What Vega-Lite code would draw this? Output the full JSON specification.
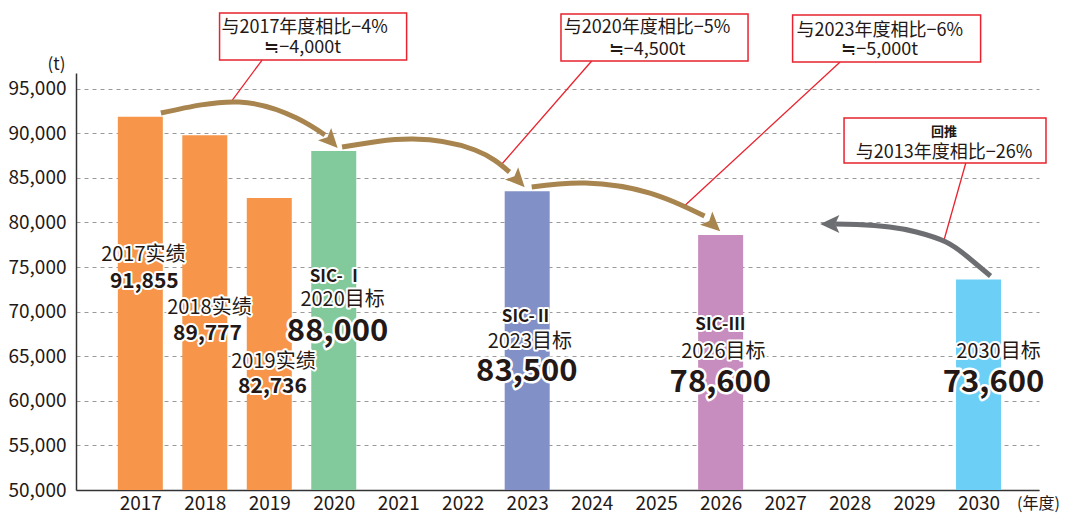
{
  "$schema": "https://vega.github.io/schema/vega-lite/v6.json",
  "width": 963,
  "height": 417,
  "autosize": {"type": "none"},
  "padding": {"left": 76, "top": 73, "right": 33, "bottom": 23},
  "background": "white",
  "config": {
    "font": "Noto Sans CJK SC",
    "view": {"stroke": null},
    "text": {"color": "#231815"}
  },
  "datasets": {
    "bars": [
      {"year": 2017, "value": 91855, "phase": "实绩"},
      {"year": 2018, "value": 89777, "phase": "实绩"},
      {"year": 2019, "value": 82736, "phase": "实绩"},
      {"year": 2020, "value": 88000, "phase": "SIC-Ⅰ"},
      {"year": 2023, "value": 83500, "phase": "SIC-Ⅱ"},
      {"year": 2026, "value": 78600, "phase": "SIC-Ⅲ"},
      {"year": 2030, "value": 73600, "phase": "2030目标"}
    ],
    "arrows": [
      {"id": "a1", "year": 2017.319, "value": 92262},
      {"id": "a1", "year": 2018.530, "value": 93495},
      {"id": "a1", "year": 2019.423, "value": 91701},
      {"id": "a1", "year": 2019.862, "value": 89796},
      {"id": "a2", "year": 2020.129, "value": 88450},
      {"id": "a2", "year": 2021.222, "value": 89347},
      {"id": "a2", "year": 2022.189, "value": 88114},
      {"id": "a2", "year": 2022.726, "value": 85648},
      {"id": "a3", "year": 2023.070, "value": 83966},
      {"id": "a3", "year": 2023.903, "value": 84415},
      {"id": "a3", "year": 2024.904, "value": 83294},
      {"id": "a3", "year": 2025.750, "value": 80715}
    ],
    "backArrow": [
      {"year": 2030.186, "value": 73989},
      {"year": 2029.833, "value": 76119},
      {"year": 2029.495, "value": 77801},
      {"year": 2029.035, "value": 78922},
      {"year": 2028.620, "value": 79482},
      {"year": 2028.114, "value": 79763},
      {"year": 2027.776, "value": 79819}
    ],
    "leaders": [
      {"year": 2018.889, "value": 98203, "year2": 2018.393, "value2": 93383},
      {"year": 2024.000, "value": 98091, "year2": 2022.594, "value2": 86433},
      {"year": 2027.853, "value": 97979, "year2": 2025.420, "value2": 81724},
      {"year": 2029.802, "value": 86657, "year2": 2029.465, "value2": 78025}
    ],
    "boxes": [
      {"year": 2018.229, "year2": 2021.130, "value": 98203, "value2": 103472},
      {"year": 2023.524, "year2": 2026.425, "value": 98091, "value2": 103360},
      {"year": 2027.116, "year2": 2030.032, "value": 97979, "value2": 103248},
      {"year": 2027.914, "year2": 2031.046, "value": 86657, "value2": 91701}
    ],
    "boxText": [
      {"label": "与2017年度相比−4%", "year": 2019.549, "value": 101790, "kind": "main"},
      {"label": "≒−4,000t", "year": 2019.518, "value": 99548, "kind": "main"},
      {"label": "与2020年度相比−5%", "year": 2024.860, "value": 101790, "kind": "main"},
      {"label": "≒−4,500t", "year": 2024.860, "value": 99324, "kind": "main"},
      {"label": "与2023年度相比−6%", "year": 2028.467, "value": 101454, "kind": "main"},
      {"label": "≒−5,000t", "year": 2028.467, "value": 99324, "kind": "main"},
      {"label": "回推", "year": 2029.465, "value": 90132, "kind": "note"},
      {"label": "与2013年度相比−26%", "year": 2029.465, "value": 87778, "kind": "main"}
    ],
    "labels": [
      {"label": "2017实绩", "year": 2017.047, "value": 76344, "kind": "cap"},
      {"label": "91,855", "year": 2017.062, "value": 73317, "kind": "actual"},
      {"label": "2018实绩", "year": 2018.072, "value": 70402, "kind": "cap"},
      {"label": "89,777", "year": 2018.042, "value": 67488, "kind": "actual"},
      {"label": "2019实绩", "year": 2019.065, "value": 64349, "kind": "cap"},
      {"label": "82,736", "year": 2019.050, "value": 61546, "kind": "actual"},
      {"label": "SIC- Ⅰ", "year": 2020.045, "value": 73877, "kind": "sic"},
      {"label": "2020目标", "year": 2020.137, "value": 71299, "kind": "cap"},
      {"label": "88,000", "year": 2020.060, "value": 67712, "kind": "target"},
      {"label": "SIC-Ⅱ", "year": 2022.995, "value": 69393, "kind": "sic"},
      {"label": "2023目标", "year": 2023.041, "value": 66591, "kind": "cap"},
      {"label": "83,500", "year": 2022.995, "value": 63228, "kind": "target"},
      {"label": "SIC-Ⅲ", "year": 2025.996, "value": 68497, "kind": "sic"},
      {"label": "2026目标", "year": 2026.042, "value": 65470, "kind": "cap"},
      {"label": "78,600", "year": 2025.996, "value": 61995, "kind": "target"},
      {"label": "2030目标", "year": 2030.309, "value": 65470, "kind": "cap"},
      {"label": "73,600", "year": 2030.232, "value": 61995, "kind": "target"}
    ]
  },
  "encoding": {
    "x": {
      "field": "year", "type": "quantitative",
      "scale": {"domain": [2016.08, 2030.86], "nice": false, "zero": false},
      "axis": {
        "values": [2017, 2018, 2019, 2020, 2021, 2022, 2023, 2024, 2025, 2026, 2027, 2028, 2029, 2030],
        "format": "d", "tickSize": 0, "labelPadding": 4, "labelFontSize": 19, "labelColor": "#231815",
        "labelFlush": false, "labelOverlap": false, "labelBound": false, "grid": false,
        "domainColor": "#333333", "domainWidth": 1.5,
        "title": "(年度)", "titleX": 962, "titleY": 13, "titleAlign": "center", "titleBaseline": "middle",
        "titleFontWeight": "normal", "titleFontSize": 16, "titleColor": "#231815"
      }
    },
    "y": {
      "field": "value", "type": "quantitative",
      "scale": {"domain": [50000, 96750], "nice": false, "zero": false},
      "axis": {
        "values": [50000, 55000, 60000, 65000, 70000, 75000, 80000, 85000, 90000, 95000],
        "format": ",d", "tickSize": 0, "labelPadding": 10, "labelFontSize": 19, "labelColor": "#231815",
        "domainColor": "#333333", "domainWidth": 1.5,
        "grid": true, "gridDash": [4, 4], "gridColor": "#9a9a9a", "gridWidth": 1,
        "title": "(t)", "titleAngle": 0, "titleX": -20, "titleY": -9, "titleAlign": "center",
        "titleBaseline": "middle", "titleFontWeight": "normal", "titleFontSize": 17, "titleColor": "#231815"
      }
    }
  },
  "layer": [
    {
      "data": {"name": "bars"},
      "mark": {"type": "bar", "size": 45},
      "encoding": {
        "y2": {"datum": 50000},
        "color": {
          "field": "phase", "type": "nominal", "legend": null,
          "scale": {"domain": ["实绩", "SIC-Ⅰ", "SIC-Ⅱ", "SIC-Ⅲ", "2030目标"],
                    "range": ["#F7964A", "#82CA9C", "#8190C6", "#C78DBF", "#6BCFF6"]}
        }
      }
    },
    {
      "data": {"name": "leaders"},
      "mark": {"type": "rule", "color": "#E8232E", "strokeWidth": 1.3},
      "encoding": {"x2": {"field": "year2"}, "y2": {"field": "value2"}}
    },
    {
      "data": {"name": "arrows"},
      "mark": {"type": "line", "color": "#A8844E", "strokeWidth": 5, "interpolate": "natural"},
      "encoding": {"detail": {"field": "id"}}
    },
    {
      "data": {"name": "backArrow"},
      "mark": {"type": "line", "color": "#6D6E72", "strokeWidth": 5, "interpolate": "natural"},
      "encoding": {}
    },
    {
      "data": {"values": [{"year": 2019.934, "value": 89313}]},
      "mark": {"type": "point", "shape": "M0,-1L0.75,0.6L0,0.25L-0.75,0.6Z", "filled": true, "opacity": 1, "size": 576, "angle": 137, "color": "#A8844E"}
    },
    {
      "data": {"values": [{"year": 2022.834, "value": 84919}]},
      "mark": {"type": "point", "shape": "M0,-1L0.75,0.6L0,0.25L-0.75,0.6Z", "filled": true, "opacity": 1, "size": 576, "angle": 137, "color": "#A8844E"}
    },
    {
      "data": {"values": [{"year": 2025.857, "value": 79931}]},
      "mark": {"type": "point", "shape": "M0,-1L0.75,0.6L0,0.25L-0.75,0.6Z", "filled": true, "opacity": 1, "size": 576, "angle": 133, "color": "#A8844E"}
    },
    {
      "data": {"values": [{"year": 2027.730, "value": 79819}]},
      "mark": {"type": "point", "shape": "M0,-1L0.75,0.6L0,0.25L-0.75,0.6Z", "filled": true, "opacity": 1, "size": 576, "angle": 270, "color": "#6D6E72"}
    },
    {
      "data": {"name": "boxes"},
      "mark": {"type": "rect", "fill": "white", "stroke": "#E8232E", "strokeWidth": 1.5},
      "encoding": {"x2": {"field": "year2"}, "y2": {"field": "value2"}}
    },
    {
      "data": {"name": "boxText"},
      "transform": [{"filter": "datum.kind === 'main'"}],
      "mark": {"type": "text", "fontSize": 18, "align": "center", "baseline": "middle", "color": "#231815"},
      "encoding": {"text": {"field": "label"}}
    },
    {
      "data": {"name": "boxText"},
      "transform": [{"filter": "datum.kind === 'note'"}],
      "mark": {"type": "text", "fontSize": 13, "fontWeight": "bold", "align": "center", "baseline": "middle", "color": "#231815"},
      "encoding": {"text": {"field": "label"}}
    },
    {
      "data": {"name": "labels"},
      "transform": [{"filter": "datum.kind === 'cap'"}],
      "mark": {"type": "text", "fontSize": 20, "align": "center", "baseline": "middle", "fill": "white", "stroke": "white", "strokeWidth": 4, "strokeJoin": "round"},
      "encoding": {"text": {"field": "label"}}
    },
    {
      "data": {"name": "labels"},
      "transform": [{"filter": "datum.kind === 'cap'"}],
      "mark": {"type": "text", "fontSize": 20, "align": "center", "baseline": "middle", "color": "#231815"},
      "encoding": {"text": {"field": "label"}}
    },
    {
      "data": {"name": "labels"},
      "transform": [{"filter": "datum.kind === 'sic'"}],
      "mark": {"type": "text", "fontSize": 17, "fontWeight": "bold", "align": "center", "baseline": "middle", "fill": "white", "stroke": "white", "strokeWidth": 4, "strokeJoin": "round"},
      "encoding": {"text": {"field": "label"}}
    },
    {
      "data": {"name": "labels"},
      "transform": [{"filter": "datum.kind === 'sic'"}],
      "mark": {"type": "text", "fontSize": 17, "fontWeight": "bold", "align": "center", "baseline": "middle", "color": "#231815"},
      "encoding": {"text": {"field": "label"}}
    },
    {
      "data": {"name": "labels"},
      "transform": [{"filter": "datum.kind === 'actual'"}],
      "mark": {"type": "text", "fontSize": 21, "fontWeight": "bold", "align": "center", "baseline": "middle", "fill": "white", "stroke": "white", "strokeWidth": 4, "strokeJoin": "round"},
      "encoding": {"text": {"field": "label"}}
    },
    {
      "data": {"name": "labels"},
      "transform": [{"filter": "datum.kind === 'actual'"}],
      "mark": {"type": "text", "fontSize": 21, "fontWeight": "bold", "align": "center", "baseline": "middle", "color": "#231815"},
      "encoding": {"text": {"field": "label"}}
    },
    {
      "data": {"name": "labels"},
      "transform": [{"filter": "datum.kind === 'target'"}],
      "mark": {"type": "text", "fontSize": 31, "fontWeight": "bold", "align": "center", "baseline": "middle", "fill": "white", "stroke": "white", "strokeWidth": 5, "strokeJoin": "round"},
      "encoding": {"text": {"field": "label"}}
    },
    {
      "data": {"name": "labels"},
      "transform": [{"filter": "datum.kind === 'target'"}],
      "mark": {"type": "text", "fontSize": 31, "fontWeight": "bold", "align": "center", "baseline": "middle", "color": "#231815"},
      "encoding": {"text": {"field": "label"}}
    }
  ]
}
